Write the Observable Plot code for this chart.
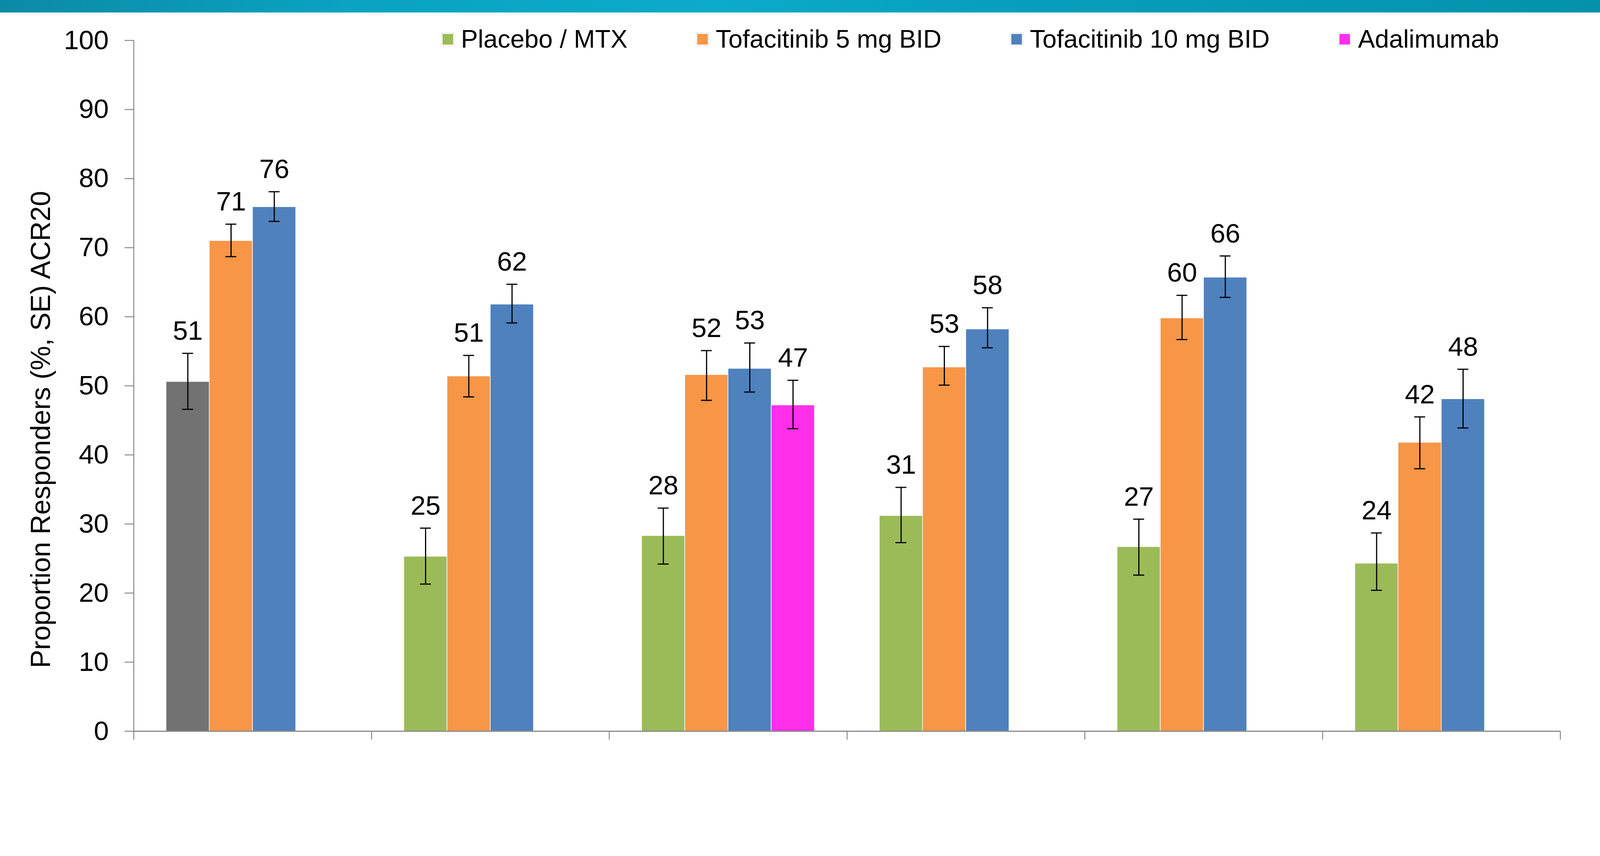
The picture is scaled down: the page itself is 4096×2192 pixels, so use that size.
<!DOCTYPE html>
<html>
<head>
<meta charset="utf-8">
<script src="https://cdn.jsdelivr.net/npm/d3@7"></script>
<script src="https://cdn.jsdelivr.net/npm/@observablehq/plot@0.6"></script>
<style>
  html, body { margin: 0; padding: 0; background: #fff; width: 4096px; height: 2192px; overflow: hidden;
    font-family: "Liberation Sans", Arial, sans-serif; }
  #chart { position: absolute; left: 0; top: 0; }
  #band { position: absolute; left: 0; top: 0; width: 4096px; height: 32px;
    background: linear-gradient(90deg, #0b8aa6 0%, #0aa3c2 22%, #0cabc9 45%, #079fbe 62%, #0492ab 100%); }
  #legend { position: absolute; left: 1131px; top: 68px; display: flex; align-items: center; gap: 177px;
    font-size: 65px; line-height: 64px; color: #000; white-space: nowrap; }
  .item { display: flex; align-items: center; }
  .sw { width: 27px; height: 27px; border: 2px solid #fff; outline: 1px solid #d0d0d0; margin-right: 18px; }
  #ytitle { position: absolute; left: 104px; top: 1100px; transform: translate(-50%, -50%) rotate(-90deg);
    font-size: 70px; line-height: 70px; white-space: nowrap; color: #000; }
</style>
</head>
<body>
<div id="chart"></div>
<div id="band"></div>
<div id="legend"></div>
<div id="ytitle"></div>
<script>
// ---- data ----
const series = ["Placebo / MTX", "Tofacitinib 5 mg BID", "Tofacitinib 10 mg BID", "Adalimumab"];
const seriesColors = ["#9bbb59", "#f79646", "#4f81bd", "#ff2ee8"];
const referenceKind = "MTX reference";          // grey bar (not in legend)
const referenceColor = "#727272";
const yTitle = "Proportion Responders (%, SE) ACR20";
const yTicks = [0, 10, 20, 30, 40, 50, 60, 70, 80, 90, 100];
const groups = ["1", "2", "3", "4", "5", "6"];

const barGroup = ["1","1","1", "2","2","2", "3","3","3","3", "4","4","4", "5","5","5", "6","6","6"];
const barKind = [
  "MTX reference", "Tofacitinib 5 mg BID", "Tofacitinib 10 mg BID",
  "Placebo / MTX", "Tofacitinib 5 mg BID", "Tofacitinib 10 mg BID",
  "Placebo / MTX", "Tofacitinib 5 mg BID", "Tofacitinib 10 mg BID", "Adalimumab",
  "Placebo / MTX", "Tofacitinib 5 mg BID", "Tofacitinib 10 mg BID",
  "Placebo / MTX", "Tofacitinib 5 mg BID", "Tofacitinib 10 mg BID",
  "Placebo / MTX", "Tofacitinib 5 mg BID", "Tofacitinib 10 mg BID"
];
const values = [50.6, 71.0, 75.9,  25.3, 51.4, 61.8,  28.3, 51.6, 52.5, 47.2,  31.2, 52.7, 58.2,  26.7, 59.8, 65.7,  24.3, 41.8, 48.1];
const seLow  = [46.6, 68.7, 73.8,  21.3, 48.4, 59.1,  24.2, 47.9, 49.1, 43.8,  27.3, 50.1, 55.5,  22.6, 56.7, 62.8,  20.4, 38.0, 43.9];
const seHigh = [54.7, 73.4, 78.1,  29.4, 54.4, 64.7,  32.3, 55.1, 56.2, 50.8,  35.3, 55.7, 61.3,  30.7, 63.1, 68.8,  28.7, 45.5, 52.4];
const labels = ["51","71","76", "25","51","62", "28","52","53","47", "31","53","58", "27","60","66", "24","42","48"];

// ---- layout (Excel-like clustered bars: 4 slots per group, gap width 150%) ----
const slotsPerGroup = series.length;
const gapWidth = 1.5;
const step = 1 / (slotsPerGroup + gapWidth);
const slotOf = k => k === referenceKind ? 0 : series.indexOf(k);

const bars = values.map((v, i) => {
  const g = groups.indexOf(barGroup[i]);
  const s = slotOf(barKind[i]);
  const x1 = g + (gapWidth / 2 + s) * step;
  return { kind: barKind[i], value: v, lo: seLow[i], hi: seHigh[i], label: labels[i],
           x1, x2: x1 + step, xc: x1 + step / 2 };
});

const gray = "#8a8a8a";

const chart = Plot.plot({
  width: 4096, height: 2192,
  marginLeft: 342, marginRight: 102, marginTop: 103, marginBottom: 320,
  style: { fontFamily: '"Liberation Sans", Arial, sans-serif', fontSize: "69px", color: "#000", background: "transparent", overflow: "visible" },
  x: { domain: [0, groups.length], axis: null },
  y: { domain: [0, 100], axis: null },
  color: { domain: [...series, referenceKind], range: [...seriesColors, referenceColor] },
  marks: [
    Plot.rect(bars, { x1: "x1", x2: "x2", y1: 0, y2: "value", fill: "kind", stroke: "#ffffff", strokeWidth: 1.5 }),
    Plot.ruleX(bars, { x: "xc", y1: "lo", y2: "hi", stroke: "#000", strokeWidth: 3 }),
    Plot.ruleY(bars, { x1: "xc", x2: "xc", y: "lo", insetLeft: -14, insetRight: -14, stroke: "#000", strokeWidth: 3 }),
    Plot.ruleY(bars, { x1: "xc", x2: "xc", y: "hi", insetLeft: -14, insetRight: -14, stroke: "#000", strokeWidth: 3 }),
    Plot.text(bars, { x: "xc", y: "hi", text: "label", dy: -57, fontSize: 69, fill: "#000" }),
    Plot.axisY(yTicks, { tickSize: 23, tickPadding: 41, fontSize: 69, stroke: gray, strokeWidth: 2.5, fill: "#000", label: null }),
    Plot.axisX(d3.range(groups.length + 1), { tickSize: 22, tickFormat: () => "", stroke: gray, strokeWidth: 2.5, label: null }),
    Plot.ruleX([0], { stroke: gray, strokeWidth: 2.5 }),
    Plot.ruleY([0], { stroke: gray, strokeWidth: 3 })
  ]
});
document.getElementById("chart").appendChild(chart);

// ---- legend ----
const legend = document.getElementById("legend");
series.forEach((name, i) => {
  const item = document.createElement("div");
  item.className = "item";
  const sw = document.createElement("div");
  sw.className = "sw";
  sw.style.background = seriesColors[i];
  const tx = document.createElement("span");
  tx.textContent = name;
  item.appendChild(sw);
  item.appendChild(tx);
  legend.appendChild(item);
});
document.getElementById("ytitle").textContent = yTitle;
</script>
</body>
</html>
